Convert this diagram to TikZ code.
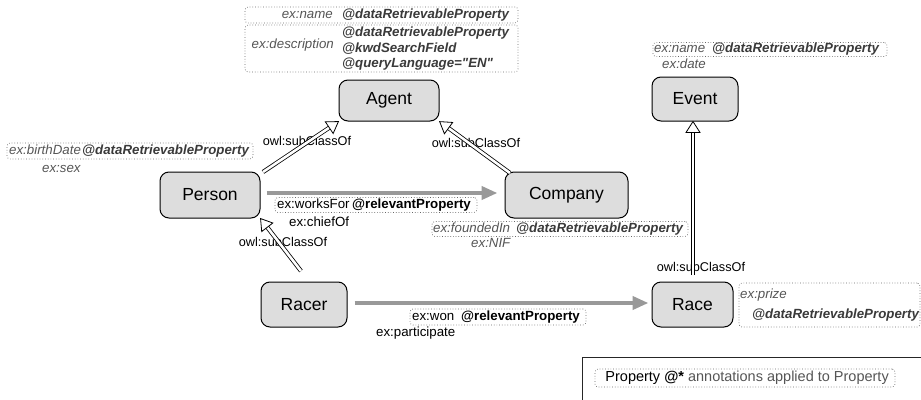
\documentclass[tikz,border=0pt]{standalone}
\usepackage{fontspec}
\setmainfont{Liberation Sans}
\newfontfamily\rawsans{Liberation Sans}
\usetikzlibrary{arrows.meta,decorations.markings}
\definecolor{boxfill}{HTML}{DDDDDD}
\definecolor{arrgray}{HTML}{999999}
\definecolor{anngray}{HTML}{555555}
\definecolor{anndark}{HTML}{3A3A3A}
\definecolor{dotgray}{HTML}{666666}
\tikzset{
  cls/.style={draw=black, line width=1pt, fill=boxfill, rounded corners=9pt, inner sep=0pt,
    font=\fontsize{17.5}{20}\selectfont},
  annbox/.style={draw=dotgray, dotted, line width=0.7pt, rounded corners=3pt, inner sep=0pt},
  txt/.style={inner sep=0pt, anchor=west, text height=9.5pt, text depth=2.8pt,
    font=\fontsize{13.3}{15}\selectfont},
  anni/.style={txt, text=anngray, font=\fontsize{13.3}{15}\selectfont\itshape},
  annb/.style={txt, text=anndark, font=\fontsize{13.3}{15}\selectfont\bfseries\itshape},
  relb/.style={txt, text=black, font=\fontsize{13.3}{15}\selectfont\bfseries},
  lbl/.style={inner sep=0pt, text=black, font=\fontsize{12.7}{14}\selectfont},
  grayarrow/.style={draw=arrgray, line width=4pt, -{Triangle[length=16pt,width=13pt]}},
  hollowline/.style={draw=black, line width=0.8pt, double=white, double distance=2.6pt, shorten >=9pt},
  hollowhead/.style={decoration={markings, mark=at position 1 with {
      \draw[black, line width=0.8pt, fill=white, line join=miter]
        (0pt,0pt) -- (-11pt,7pt) -- (-11pt,-7pt) -- cycle;}}, decorate},
}
\begin{document}
\begin{tikzpicture}[x=1pt,y=-1pt]
\useasboundingbox (0,0) rectangle (921,399);

% class nodes
\node[cls, minimum width=100pt, minimum height=41pt] (agent) at (389,100.5) {Agent};
\node[cls, minimum width=86pt, minimum height=44pt] (event) at (695,99) {Event};
\node[cls, minimum width=100pt, minimum height=46pt] (person) at (210,195) {Person};
\node[cls, minimum width=123pt, minimum height=46pt] (company) at (566.5,195) {Company};
\node[cls, minimum width=86pt, minimum height=45pt] (racer) at (304,304.5) {Racer};
\node[cls, minimum width=81pt, minimum height=45pt] (race) at (692.5,304.5) {Race};

% annotation boxes
\node[annbox, minimum width=273pt, minimum height=16pt] (agentNameBox) at (381.5,15) {};
\node[annbox, minimum width=273pt, minimum height=47pt] (agentDescBox) at (381.5,48.5) {};
\node[annbox, minimum width=246pt, minimum height=16pt] (personBox) at (130,151) {};
\node[annbox, minimum width=202pt, minimum height=15pt] (worksBox) at (376,205) {};
\node[annbox, minimum width=256pt, minimum height=15pt] (compBox) at (560,229) {};
\node[annbox, minimum width=234pt, minimum height=14pt] (eventBox) at (770,49.5) {};
\node[annbox, minimum width=181pt, minimum height=44pt] (raceBox) at (829.5,305) {};
\node[annbox, minimum width=176pt, minimum height=16pt] (wonBox) at (498,317) {};

% Agent annotations
\node[anni, anchor=east] (tAgName) at (333,15) {ex:name};
\node[annb] (tAgNameA) at (342,15) {@dataRetrievableProperty};
\node[anni, anchor=east] (tAgDesc) at (334,45) {ex:description};
\node[annb] (tAgDescA) at (342,33) {@dataRetrievableProperty};
\node[annb] (tAgDescB) at (342,49) {@kwdSearchField};
\node[annb] (tAgDescC) at (342,64.5) {\rawsans\bfseries\itshape @queryLanguage="EN"};

% Person annotations
\node[anni] (tPBirth) at (9,151) {ex:birthDate};
\node[annb] (tPBirthA) at (82,151) {@dataRetrievableProperty};
\node[anni] (tPSex) at (42,169) {ex:sex};

% worksFor
\node[txt] (tWorks) at (277,205) {ex:worksFor};
\node[relb] (tWorksA) at (352,205) {@relevantProperty};
\node[txt] (tChief) at (289,223) {ex:chiefOf};

% Company annotations
\node[anni] (tCFound) at (433,229) {ex:foundedIn};
\node[annb] (tCFoundA) at (516,229) {@dataRetrievableProperty};
\node[anni] (tCNIF) at (471,244) {ex:NIF};

% Event annotations
\node[anni] (tEName) at (654,49) {ex:name};
\node[annb] (tENameA) at (712,49) {@dataRetrievableProperty};
\node[anni] (tEDate) at (662,65) {ex:date};

% Race annotations
\node[anni] (tRPrize) at (740,295) {ex:prize};
\node[annb] (tRPrizeA) at (752,315) {@dataRetrievableProperty};

% won
\node[txt] (tWon) at (412,317) {ex:won};
\node[relb] (tWonA) at (461,317) {@relevantProperty};
\node[txt] (tPart) at (376,333) {ex:participate};

% legend
\draw[draw=black!85, line width=0.8pt] (582,357) rectangle (930,410);
\node[annbox, minimum width=300pt, minimum height=18pt] (legendBox) at (745,378) {};
\node[txt, anchor=east, font=\fontsize{14.5}{16}\selectfont, text height=10.4pt, text depth=3pt] (tLegend) at (889,378)
  {Property \textbf{@*}\ \textcolor{anngray}{annotations applied to Property}};

% subclass labels
\node[lbl] (lPA) at (307,141) {owl:subClassOf};
\node[lbl] (lCA) at (476,143) {owl:subClassOf};
\node[lbl] (lRP) at (283,242) {owl:subClassOf};
\node[lbl] (lRE) at (701,267) {owl:subClassOf};

% connectors
\draw[grayarrow] ([xshift=6pt,yshift=2pt]person.east) -- ([xshift=-7pt,yshift=2pt]company.west);
\draw[grayarrow] ([xshift=7pt,yshift=1.5pt]racer.east) -- ([xshift=-3pt,yshift=1.5pt]race.west);

\coordinate (cPA) at (263,172);
\coordinate (cCA) at (510,173);
\coordinate (cRP) at (301,271);
\coordinate (cRE) at (693,275);

\draw[hollowline] (cPA) -- (agent.south west);
\path[hollowhead] (cPA) -- (agent.south west);
\draw[hollowline] (cCA) -- (agent.south east);
\path[hollowhead] (cCA) -- (agent.south east);
\draw[hollowline] (cRP) -- (person.south east);
\path[hollowhead] (cRP) -- (person.south east);
\draw[hollowline] (cRE) -- (cRE |- event.south);
\path[hollowhead] (cRE) -- (cRE |- event.south);
\end{tikzpicture}
\end{document}
